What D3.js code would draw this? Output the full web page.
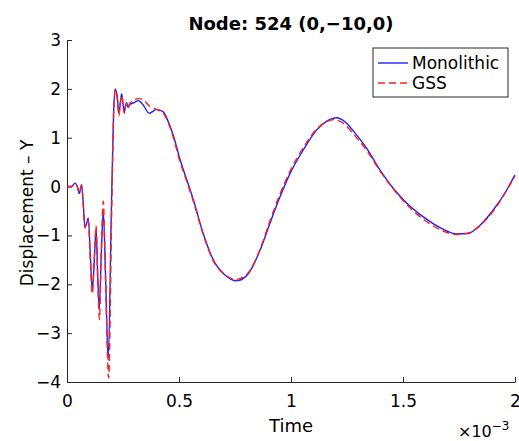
<!DOCTYPE html>
<html>
<head>
<meta charset="utf-8">
<script src="https://cdn.jsdelivr.net/npm/d3@7"></script>
<style>
  body { margin: 0; background: #fff; }
  text { font-family: "DejaVu Sans", sans-serif; fill: #000; }
</style>
</head>
<body>
<div id="chart"></div>
<script>
// time in units of 1e-3
const timeMono = [0, 0.02, 0.036, 0.046, 0.055, 0.065, 0.072, 0.08, 0.088, 0.095, 0.104, 0.113, 0.122, 0.13, 0.137, 0.144, 0.153, 0.162, 0.172, 0.184, 0.198, 0.208, 0.215, 0.224, 0.232, 0.238, 0.244, 0.25, 0.256, 0.261, 0.266, 0.272, 0.28, 0.289, 0.3, 0.318, 0.34, 0.367, 0.4, 0.43, 0.45, 0.475, 0.505, 0.52, 0.564, 0.608, 0.653, 0.705, 0.758, 0.81, 0.862, 0.906, 0.951, 0.996, 1.055, 1.115, 1.16, 1.204, 1.24, 1.278, 1.338, 1.397, 1.457, 1.517, 1.591, 1.665, 1.74, 1.792, 1.844, 1.903, 1.963, 2.0];
const monolithic = [0, 0, 0.07, 0, -0.14, 0.04, -0.3, -0.82, -0.75, -0.64, -1.4, -2.12, -1.5, -0.85, -1.8, -2.5, -1.4, -0.5, -1.8, -3.55, -0.5, 1.5, 2.0, 1.85, 1.5, 1.7, 1.9, 1.7, 1.52, 1.65, 1.72, 1.62, 1.68, 1.7, 1.72, 1.76, 1.67, 1.5, 1.58, 1.53, 1.35, 1.04, 0.55, 0.34, -0.27, -0.96, -1.5, -1.81, -1.93, -1.78, -1.3, -0.75, -0.21, 0.27, 0.75, 1.16, 1.34, 1.41, 1.33, 1.14, 0.78, 0.34, -0.04, -0.34, -0.62, -0.84, -0.97, -0.96, -0.79, -0.48, -0.07, 0.24];

const timeGss = [0, 0.02, 0.036, 0.046, 0.055, 0.065, 0.072, 0.08, 0.088, 0.095, 0.104, 0.113, 0.122, 0.13, 0.137, 0.145, 0.153, 0.162, 0.172, 0.186, 0.2, 0.209, 0.216, 0.224, 0.232, 0.238, 0.245, 0.25, 0.256, 0.261, 0.266, 0.272, 0.28, 0.289, 0.3, 0.32, 0.34, 0.367, 0.4, 0.43, 0.45, 0.475, 0.505, 0.52, 0.564, 0.608, 0.653, 0.705, 0.755, 0.81, 0.862, 0.906, 0.951, 0.996, 1.055, 1.115, 1.16, 1.19, 1.24, 1.278, 1.338, 1.397, 1.457, 1.517, 1.591, 1.665, 1.74, 1.792, 1.844, 1.903, 1.963, 2.0];
const gss = [0, 0, 0.06, 0, -0.12, 0.03, -0.35, -0.85, -0.72, -0.7, -1.5, -2.2, -1.45, -0.8, -1.9, -2.72, -1.3, -0.3, -1.9, -3.92, -0.4, 1.6, 1.98, 1.8, 1.45, 1.72, 1.86, 1.65, 1.5, 1.65, 1.7, 1.6, 1.7, 1.74, 1.78, 1.8, 1.78, 1.65, 1.58, 1.5, 1.33, 1.0, 0.5, 0.3, -0.3, -0.98, -1.52, -1.8, -1.9, -1.76, -1.28, -0.7, -0.15, 0.32, 0.8, 1.18, 1.33, 1.37, 1.27, 1.08, 0.74, 0.32, -0.05, -0.37, -0.67, -0.88, -0.98, -0.95, -0.8, -0.5, -0.08, 0.22];

const xTicks = [0, 0.5, 1, 1.5, 2];
const yTicks = [-4, -3, -2, -1, 0, 1, 2, 3];
const seriesNames = ['Monolithic', 'GSS'];

const W = 519, H = 441;
const margin = { top: 40, right: 4, bottom: 59, left: 67 };
const width = W - margin.left - margin.right;
const height = H - margin.top - margin.bottom;

const svg = d3.select('#chart').append('svg')
  .attr('width', W).attr('height', H);
const g = svg.append('g')
  .attr('transform', `translate(${margin.left},${margin.top})`);

const x = d3.scaleLinear().domain([0, 2]).range([0, width]);
const y = d3.scaleLinear().domain([-4, 3]).range([height, 0]);

const fmt = v => String(v).replace('-', '\u2212');

// axes (MATLAB style, ticks inward, no box)
const xAxis = g.append('g')
  .attr('transform', `translate(0,${height})`)
  .call(d3.axisBottom(x).tickValues(xTicks).tickSizeInner(-5).tickSizeOuter(0).tickPadding(10).tickFormat(fmt));
const yAxis = g.append('g')
  .call(d3.axisLeft(y).tickValues(yTicks).tickSizeInner(-5).tickSizeOuter(0).tickPadding(6).tickFormat(fmt));
[xAxis, yAxis].forEach(a => {
  a.select('.domain').attr('stroke', '#262626');
  a.selectAll('.tick line').attr('stroke', '#262626');
  a.selectAll('.tick text').style('font-size', '17px').attr('fill', '#000');
});
xAxis.selectAll('.tick text').attr('dy', '0.9em');

const lineGen = (ts, vs) => d3.line()
  .x((d, i) => x(ts[i]))
  .y(d => y(d))
  .curve(d3.curveMonotoneX)(vs);

g.append('path')
  .attr('d', lineGen(timeMono, monolithic))
  .attr('fill', 'none').attr('stroke', '#1f1fff').attr('stroke-width', 1.4);
g.append('path')
  .attr('d', lineGen(timeGss, gss))
  .attr('fill', 'none').attr('stroke', '#ff1f1f').attr('stroke-width', 1.4)
  .attr('stroke-dasharray', '7,4');

// title and labels
svg.append('text')
  .attr('x', margin.left + width / 2).attr('y', 30)
  .attr('text-anchor', 'middle').style('font-size', '18px').style('font-weight', 'bold')
  .text('Node: 524 (0,\u221210,0)');
svg.append('text')
  .attr('x', margin.left + width / 2).attr('y', 432)
  .attr('text-anchor', 'middle').style('font-size', '18px')
  .text('Time');
svg.append('text')
  .attr('transform', `translate(33,${margin.top + height / 2 + 2}) rotate(-90)`)
  .attr('text-anchor', 'middle').style('font-size', '17px')
  .text('Displacement \u2013 Y');
const expo = svg.append('text')
  .attr('x', 458).attr('y', 437).style('font-size', '16px');
expo.append('tspan').text('\u00d710');
expo.append('tspan').attr('dy', -7).style('font-size', '12px').text('\u22123');

// legend
const legend = svg.append('g').attr('transform', 'translate(373,48)');
legend.append('rect')
  .attr('width', 135).attr('height', 49)
  .attr('fill', '#fff').attr('stroke', '#262626').attr('stroke-width', 1);
const legStyles = [
  { color: '#1f1fff', dash: null },
  { color: '#ff1f1f', dash: '7,4' }
];
seriesNames.forEach((name, i) => {
  const row = legend.append('g').attr('transform', `translate(0,${15 + i * 20})`);
  row.append('line').attr('x1', 5).attr('x2', 35)
    .attr('stroke', legStyles[i].color).attr('stroke-width', 1.4)
    .attr('stroke-dasharray', legStyles[i].dash);
  row.append('text').attr('x', 39).attr('y', 6).style('font-size', '17px').text(name);
});
</script>
</body>
</html>
